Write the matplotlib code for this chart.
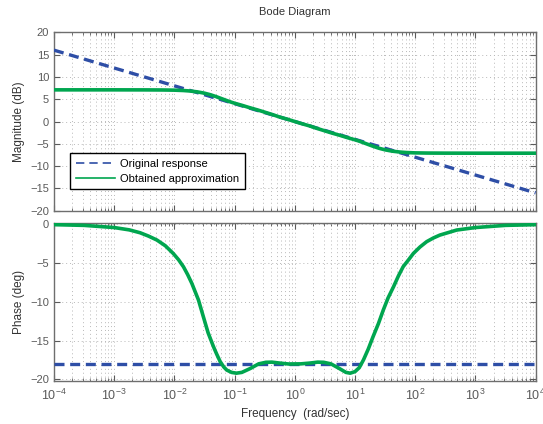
import numpy as np
import matplotlib
matplotlib.use("Agg")
import matplotlib.pyplot as plt
from matplotlib.ticker import LogLocator, FixedLocator, NullFormatter

plt.rcParams['font.family'] = ['Liberation Sans', 'DejaVu Sans']
plt.rcParams['mathtext.default'] = 'regular'

# Original response (fractional integrator s^-0.2)
orig_logw = [-4, 4]
orig_mag = [16, -16]
orig_phase = [-18, -18]

# Obtained approximation, log10(frequency)
approx_logw_mag = [-4.0, -3.0, -2.5, -2.2, -2.0, -1.85, -1.75, -1.62, -1.5, -1.4, -1.3, -1.22, -1.15,
                   -1.07, -1.0, -0.87, -0.75, -0.62, -0.5, -0.37, -0.25, -0.12,
                   0.0, 0.12, 0.25, 0.37, 0.5, 0.62, 0.75, 0.87, 1.0, 1.07, 1.15, 1.22, 1.3, 1.4,
                   1.5, 1.62, 1.75, 1.85, 2.0, 2.2, 2.5, 3.0, 4.0]
approx_mag = [7.1, 7.1, 7.09, 7.07, 7.03, 6.95, 6.85, 6.65, 6.35, 6.0, 5.55, 5.15, 4.8,
              4.4, 4.1, 3.6, 3.1, 2.6, 2.1, 1.55, 1.0, 0.5,
              0.0, -0.5, -1.0, -1.55, -2.1, -2.6, -3.1, -3.6, -4.1, -4.4, -4.8, -5.15, -5.55, -6.0,
              -6.35, -6.65, -6.85, -6.95, -7.03, -7.07, -7.09, -7.1, -7.1]

approx_logw_ph = [-4.0, -3.5, -3.0, -2.75, -2.57, -2.43, -2.29, -2.15, -2.02, -1.93, -1.85, -1.78,
                  -1.71, -1.6, -1.52, -1.44, -1.35, -1.3, -1.24, -1.18, -1.13, -1.05, -0.97,
                  -0.88, -0.74, -0.6, -0.48, -0.38, -0.25, -0.1,
                  0.1, 0.25, 0.38, 0.48, 0.6, 0.74, 0.85, 0.92, 1.0, 1.07, 1.14, 1.22, 1.3,
                  1.39, 1.47, 1.55, 1.64, 1.72, 1.8, 1.89, 1.97, 2.08, 2.19, 2.3, 2.41, 2.69,
                  3.0, 3.5, 4.0]
approx_phase = [-0.08, -0.17, -0.45, -0.75, -1.12, -1.55, -2.06, -2.8, -3.78, -4.6, -5.49, -6.5,
                -7.64, -9.78, -11.9, -14.0, -15.8, -16.7, -17.7, -18.4, -18.8, -19.1, -19.2,
                -19.1, -18.6, -18.0, -17.8, -17.78, -17.9, -18.02,
                -18.0, -17.9, -17.78, -17.8, -18.0, -18.6, -19.1, -19.2, -19.0, -18.5, -17.5, -16.1, -14.5,
                -12.8, -11.07, -9.5, -8.07, -6.7, -5.49, -4.6, -3.78, -2.95, -2.27, -1.8, -1.42, -0.77,
                -0.45, -0.17, -0.08]

BLUE = '#2E4EA6'
GREEN = '#00A64F'
GRAY = '#5a5a5a'

fig = plt.figure(figsize=(5.43, 4.24), dpi=100)
ax1 = fig.add_axes([0.0994, 0.503, 0.887, 0.4208])
ax2 = fig.add_axes([0.0994, 0.1021, 0.887, 0.3726])

w_o = 10.0 ** np.array(orig_logw)
w_m = 10.0 ** np.array(approx_logw_mag)
w_p = 10.0 ** np.array(approx_logw_ph)

ax1.plot(w_o, orig_mag, color=BLUE, lw=2.4, dashes=(3.0, 1.7), label='Original response', zorder=3)
ax1.plot(w_m, approx_mag, color=GREEN, lw=2.6, label='Obtained approximation', zorder=4,
         solid_joinstyle='round')
ax2.plot(w_o, orig_phase, color=BLUE, lw=2.4, dashes=(3.0, 1.7), zorder=3)
ax2.plot(w_p, approx_phase, color=GREEN, lw=2.6, zorder=4, solid_joinstyle='round')

for ax in (ax1, ax2):
    ax.set_xscale('log')
    ax.set_xlim(1e-4, 1e4)
    ax.xaxis.set_major_locator(LogLocator(base=10, numticks=20))
    ax.xaxis.set_minor_locator(LogLocator(base=10, subs=np.arange(2, 10), numticks=100))
    ax.xaxis.set_minor_formatter(NullFormatter())
    ax.tick_params(which='both', direction='in', top=True, right=True, colors=GRAY,
                   labelsize=8, labelcolor=GRAY)
    ax.tick_params(axis='x', labelsize=9, pad=5)
    ax.tick_params(which='major', length=4)
    ax.tick_params(which='minor', length=2)
    for s in ax.spines.values():
        s.set_color('#6e6e6e')
        s.set_linewidth(1.0)
    ax.grid(True, which='major', axis='both', color='#b8b8b8', ls=(0, (1, 3)), lw=0.7)
    ax.grid(True, which='minor', axis='x', color='#b8b8b8', ls=(0, (1, 3)), lw=0.7)
    ax.set_axisbelow(True)

ax1.set_ylim(-20, 20)
ax1.yaxis.set_major_locator(FixedLocator(np.arange(-20, 21, 5)))
ax1.set_xticklabels([])
ax1.set_ylabel('Magnitude (dB)', fontsize=8.5, color='#333333')
ax1.set_title('Bode Diagram', fontsize=8, color='#333333', pad=12.5)

ax2.set_ylim(-20.17, 0.17)
ax2.yaxis.set_major_locator(FixedLocator([0, -5, -10, -15, -20]))
ax2.set_ylabel('Phase (deg)', fontsize=8.5, color='#333333')
ax2.set_xlabel('Frequency  (rad/sec)', fontsize=8.5, color='#333333', labelpad=4)

leg = ax1.legend(loc='lower left', bbox_to_anchor=(0.022, 0.09), fontsize=8,
                 fancybox=False, framealpha=1, edgecolor='black', handlelength=3.5,
                 borderpad=0.5, labelspacing=0.45, handletextpad=0.5)
leg.get_frame().set_linewidth(1.0)
leg.get_lines()[0].set_linewidth(1.2)
leg.get_lines()[0].set_dashes((5, 3))
leg.get_lines()[1].set_linewidth(1.2)

fig.savefig('out.png', dpi=100)
